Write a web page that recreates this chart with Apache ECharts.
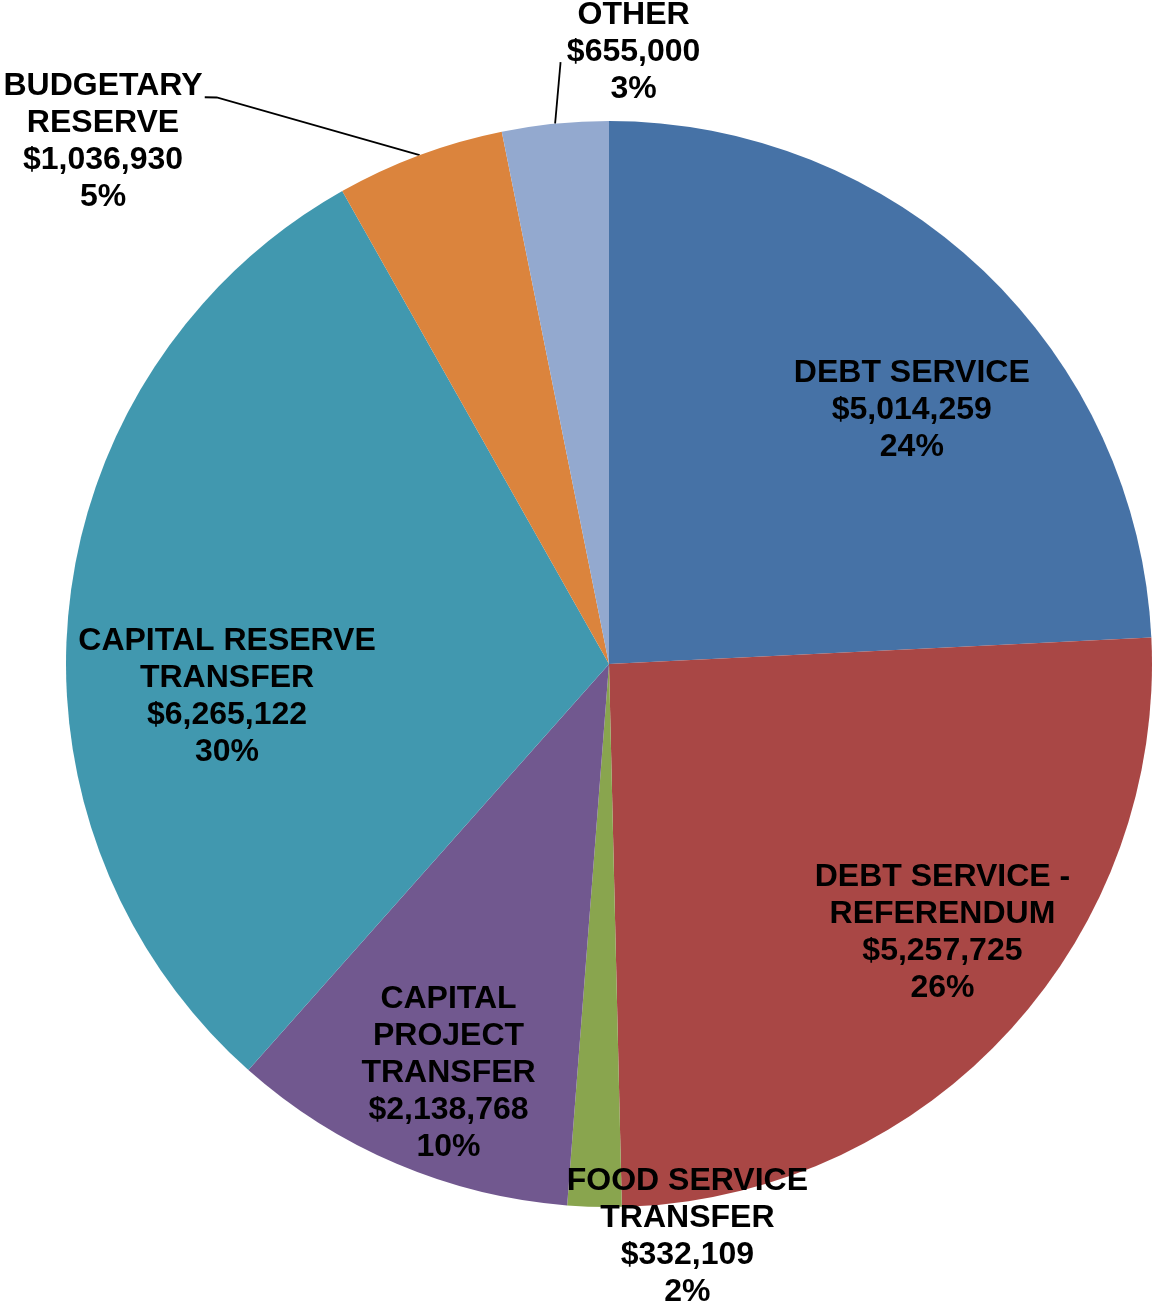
<!DOCTYPE html>
<html>
<head>
<meta charset="utf-8">
<title>Transfers and Other Uses</title>
<script src="https://cdn.jsdelivr.net/npm/echarts@6/dist/echarts.min.js"></script>
<style>
  html, body { margin: 0; padding: 0; background: #ffffff; }
  #chart { width: 1154px; height: 1303px; }
</style>
</head>
<body>
<div id="chart"></div>
<script>
// Categories and amounts, clockwise from 12 o'clock
const categories = [
  'DEBT SERVICE',
  'DEBT SERVICE -\nREFERENDUM',
  'FOOD SERVICE\nTRANSFER',
  'CAPITAL\nPROJECT\nTRANSFER',
  'CAPITAL RESERVE\nTRANSFER',
  'BUDGETARY\nRESERVE',
  'OTHER'
];
const amounts = [5014259, 5257725, 332109, 2138768, 6265122, 1036930, 655000];
const colors = ['#4672A6', '#A94745', '#89A54E', '#71588F', '#4198AF', '#DB843D', '#93A9CF'];

// Pie geometry
const cx = 609, cy = 664, R = 543;

// Label anchors as [angle from 12 o'clock in degrees, fraction of radius]
const labelAnchors = [
  [50.0, 0.728],
  [128.9, 0.789],
  [172.2, 1.064],
  [201.4, 0.810],
  [265.1, 0.706],
  [315.9, 1.339],
  [2.3, 1.128]
];
// Leader line bends for the small outer slices: list of [angle, fraction]
const leaderBends = {
  5: [[325.3, 1.269], [324.5, 1.282]],
  6: [[355.4, 1.112]]
};

const total = amounts.reduce((a, b) => a + b, 0);
const midAngles = [];
let acc = 0;
amounts.forEach(v => {
  midAngles.push((acc + v / 2) / total * 360);
  acc += v;
});

function polar(angDeg, f) {
  const a = angDeg * Math.PI / 180;
  return [cx + R * f * Math.sin(a), cy - R * f * Math.cos(a)];
}

function money(v) {
  return '$' + v.toString().replace(/\B(?=(\d{3})+(?!\d))/g, ',');
}

const chart = echarts.init(document.getElementById('chart'), null, { renderer: 'canvas' });

const data = categories.map((name, i) => ({
  name: name,
  value: amounts[i],
  itemStyle: { color: colors[i] },
  labelLine: { show: leaderBends[i] !== undefined }
}));

chart.setOption({
  animation: false,
  backgroundColor: '#ffffff',
  series: [{
    type: 'pie',
    center: [cx, cy],
    radius: R,
    startAngle: 90,
    clockwise: true,
    avoidLabelOverlap: false,
    percentPrecision: 0,
    itemStyle: { borderWidth: 0 },
    emphasis: { disabled: true },
    label: {
      show: true,
      position: 'outside',
      formatter: p => p.name + '\n' + money(p.value) + '\n' + p.percent + '%',
      fontFamily: '"Liberation Sans", Arial, sans-serif',
      fontWeight: 'bold',
      fontSize: 32,
      lineHeight: 37,
      color: '#000000',
      align: 'center'
    },
    labelLine: {
      show: false,
      lineStyle: { color: '#000000', width: 1.8 }
    },
    labelLayout: function (params) {
      const i = params.dataIndex;
      const pos = polar(labelAnchors[i][0], labelAnchors[i][1]);
      const out = {
        x: pos[0],
        y: pos[1],
        align: 'center',
        verticalAlign: 'middle'
      };
      if (leaderBends[i]) {
        const pts = [polar(midAngles[i], 1)];
        leaderBends[i].forEach(b => pts.push(polar(b[0], b[1])));
        out.labelLinePoints = pts;
      }
      return out;
    },
    data: data
  }]
});
</script>
</body>
</html>
